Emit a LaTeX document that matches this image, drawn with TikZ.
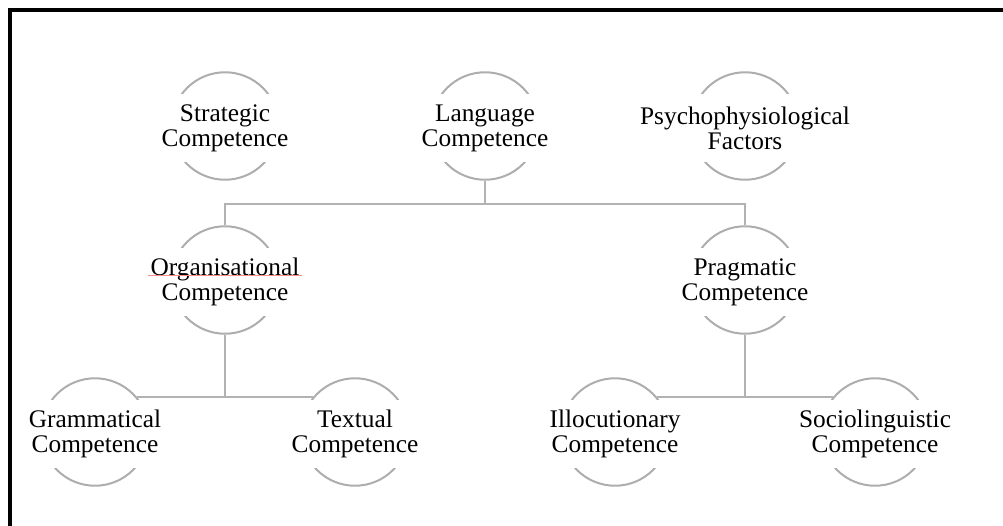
\documentclass[tikz,border=0pt]{standalone}
\usepackage{fontspec}
\setmainfont{Liberation Serif}
\begin{document}
\begin{tikzpicture}[x=0.75pt,y=-0.75pt,
  ring/.style={circle,draw=black!32,line width=1.5pt,minimum size=80.6pt,inner sep=0pt},
  label/.style={fill=white,inner sep=0pt,minimum width=112.5pt,minimum height=51pt,
    align=center,font=\fontsize{19pt}{18.9pt}\selectfont,text=black},
  link/.style={draw=black!30,line width=1.5pt}]
  \useasboundingbox (0,0) rectangle (1003,525);
  % frame
  \draw[line width=2.4pt] (10,530) -- (10,10) -- (1010,10);

  % rings
  \node[ring] (sc) at (225,126) {};
  \node[ring] (lc) at (485,126) {};
  \node[ring] (pf) at (745,126) {};
  \node[ring] (oc) at (225,280) {};
  \node[ring] (pc) at (745,280) {};
  \node[ring] (gc) at (95,432) {};
  \node[ring] (tc) at (355,432) {};
  \node[ring] (ic) at (615,432) {};
  \node[ring] (slc) at (875,432) {};

  % texts
  \begin{scope}[every node/.append style={yshift=-1.5pt}]
    \node[label] (sct) at (sc) {Strategic\\Competence};
    \node[label] (lct) at (lc) {Language\\Competence};
    \node[label] (pft) at (pf) {Psychophysiological\\Factors};
    \node[label] (oct) at (oc) {Organisational\\Competence};
    \node[label] (pct) at (pc) {Pragmatic\\Competence};
    \node[label] (gct) at (gc) {Grammatical\\Competence};
    \node[label] (tct) at (tc) {Textual\\Competence};
    \node[label] (ict) at (ic) {Illocutionary\\Competence};
    \node[label] (slct) at (slc) {Sociolinguistic\\Competence};
  \end{scope}

  % spelling underline
  \draw[red!45,line width=0.5pt] (148,275) -- (302,275);

  % connectors
  \coordinate (bar) at (485,204);
  \draw[link] (lc.south) -- (lc.south |- bar) -| (oc.north);
  \draw[link] (lc.south |- bar) -| (pc.north);
  \draw[link] (oc.south) -- (oc.south |- gc.40);
  \draw[link] (gc.40) -- (tc.140);
  \draw[link] (pc.south) -- (pc.south |- ic.40);
  \draw[link] (ic.40) -- (slc.140);
\end{tikzpicture}
\end{document}
